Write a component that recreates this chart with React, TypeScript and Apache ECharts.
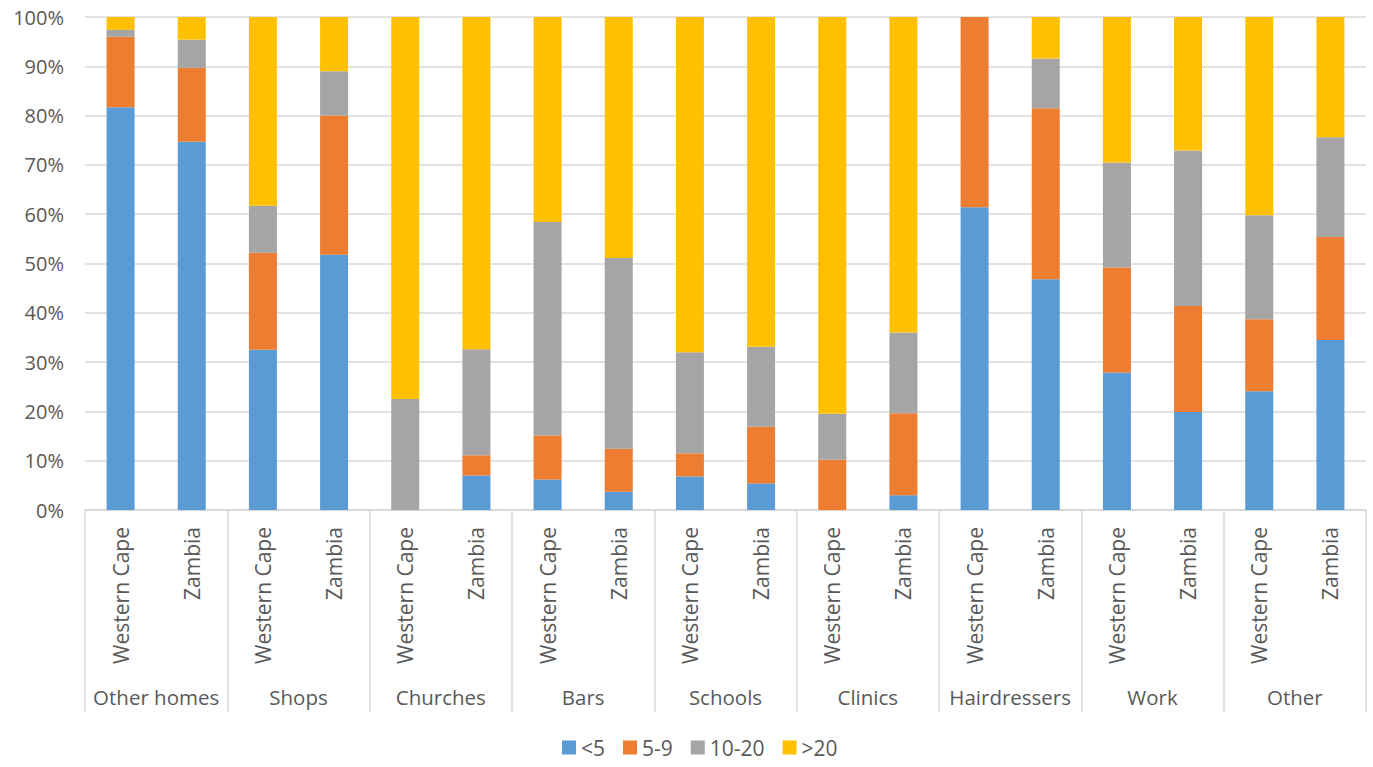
import React, { useEffect, useRef } from "react";
import * as echarts from "echarts";

const groups = ["Other homes", "Shops", "Churches", "Bars", "Schools", "Clinics", "Hairdressers", "Work", "Other"];
const regions = ["Western Cape", "Zambia"];
const categories = groups.flatMap(() => regions);

const seriesNames = ["<5", "5-9", "10-20", ">20"];
const under5 = [81.7, 74.7, 32.5, 51.8, 0, 7.0, 6.2, 3.7, 6.8, 5.4, 0, 3.0, 61.4, 46.8, 27.9, 19.9, 24.1, 34.5];
const from5to9 = [14.3, 15.0, 19.7, 28.2, 0, 4.1, 8.9, 8.7, 4.7, 11.5, 10.2, 16.6, 38.6, 34.7, 21.3, 21.5, 14.6, 20.9];
const from10to20 = [1.4, 5.7, 9.5, 9.0, 22.5, 21.5, 43.3, 38.7, 20.5, 16.2, 9.3, 16.4, 0, 10.1, 21.3, 31.5, 21.1, 20.2];
const over20 = [2.6, 4.6, 38.3, 11.0, 77.5, 67.4, 41.6, 48.9, 68.0, 66.9, 80.5, 64.0, 0, 8.4, 29.5, 27.1, 40.2, 24.4];
const seriesValues = [under5, from5to9, from10to20, over20];
const colors = ["#5B9BD5", "#ED7D31", "#A5A5A5", "#FFC000"];

const FONT = "'Open Sans', sans-serif";
const TEXT = "#595959";
const LINE = "#D9D9D9";

export default function App() {
  const ref = useRef<HTMLDivElement>(null);
  useEffect(() => {
    if (!ref.current) return;
    const chart = echarts.init(ref.current, undefined, { renderer: "svg" });
    chart.setOption({
      animation: false,
      textStyle: { fontFamily: FONT },
      color: colors,
      grid: { left: 85, right: 7, top: 17, bottom: 257, containLabel: false },
      legend: {
        data: seriesNames,
        left: 557,
        top: 732,
        icon: "rect",
        itemWidth: 14,
        itemHeight: 14,
        itemGap: 18,
        textStyle: { fontFamily: FONT, fontSize: 21, color: TEXT },
      },
      xAxis: [
        {
          type: "category",
          data: categories,
          position: "bottom",
          axisLine: { show: true, lineStyle: { color: LINE, width: 1.5 } },
          axisTick: { show: false },
          axisLabel: {
            interval: 0,
            rotate: 90,
            margin: 17,
            fontFamily: FONT,
            fontSize: 21,
            color: TEXT,
          },
        },
        {
          type: "category",
          data: groups,
          position: "bottom",
          axisLine: { show: true, lineStyle: { color: LINE, width: 1.5 } },
          axisTick: { show: true, length: 202, interval: 0, lineStyle: { color: LINE, width: 1.5 } },
          axisLabel: {
            interval: 0,
            margin: 176,
            fontFamily: FONT,
            fontSize: 20.5,
            color: TEXT,
          },
        },
      ],
      yAxis: {
        type: "value",
        min: 0,
        max: 100,
        interval: 10,
        axisLine: { show: false },
        axisTick: { show: false },
        splitLine: { lineStyle: { color: LINE, width: 1.5 } },
        axisLabel: {
          formatter: "{value}%",
          margin: 21,
          fontFamily: FONT,
          fontSize: 20,
          color: TEXT,
        },
      },
      series: seriesNames.map((name, i) => ({
        name,
        type: "bar",
        stack: "total",
        xAxisIndex: 0,
        barWidth: 28,
        data: seriesValues[i],
        itemStyle: { color: colors[i] },
      })),
    });
    return () => chart.dispose();
  }, []);
  return (
    <div
      ref={ref}
      style={{ position: "fixed", left: 0, top: 0, width: 1373, height: 767, background: "#fff" }}
    />
  );
}
